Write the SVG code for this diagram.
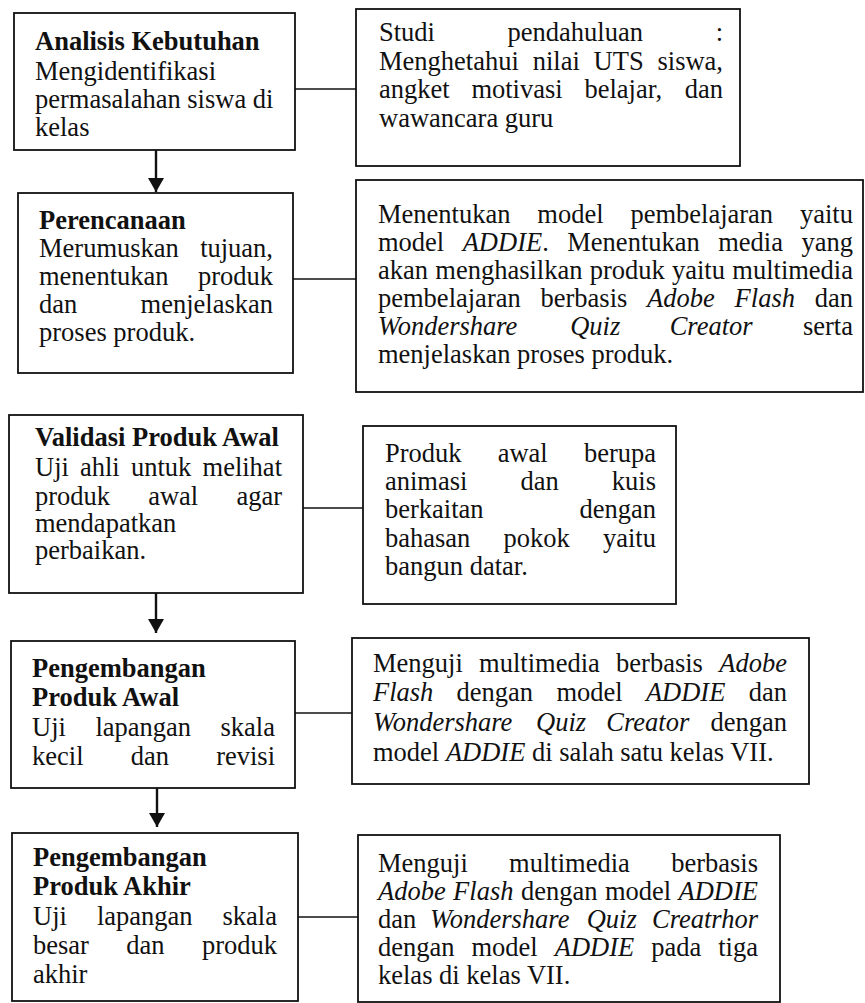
<svg xmlns="http://www.w3.org/2000/svg" width="865" height="1003" viewBox="0 0 865 1003">
<defs>
<style>
.box{fill:#fff;stroke:#111;stroke-width:1.8}
.ln{stroke:#111;stroke-width:1.6;fill:none}
.ar{stroke:#111;stroke-width:2.4;fill:none}
text{font-family:"Liberation Serif","Times New Roman",serif;font-size:26.5px;fill:#111}
.b{font-weight:bold}
.i{font-style:italic}
.e{text-anchor:end}
</style>
<marker id="ah" viewBox="0 0 14 16" refX="14" refY="8" markerWidth="14" markerHeight="16" markerUnits="userSpaceOnUse" orient="auto">
<path d="M0,0 L14,8 L0,16 z" fill="#111"/>
</marker>
</defs>
<rect width="865" height="1003" fill="#fff"/>

<g id="connectors">
<line class="ln" x1="295" y1="89" x2="356" y2="89"/>
<line class="ln" x1="293" y1="279" x2="356" y2="279"/>
<line class="ln" x1="303" y1="508" x2="363" y2="508"/>
<line class="ln" x1="295" y1="713" x2="352" y2="713"/>
<line class="ln" x1="295" y1="917" x2="358" y2="917"/>
<line class="ar" x1="156" y1="150" x2="156" y2="192" marker-end="url(#ah)"/>
<line class="ar" x1="156" y1="593" x2="156" y2="633" marker-end="url(#ah)"/>
<line class="ar" x1="157" y1="788" x2="157" y2="827" marker-end="url(#ah)"/>
</g>

<g id="analisis">
<rect class="box" x="14" y="13" width="281" height="137"/>
<text class="b" x="35" y="50">Analisis Kebutuhan</text>
<text x="35" y="80">Mengidentifikasi</text>
<text x="35" y="108">permasalahan siswa di</text>
<text x="35" y="136">kelas</text>
</g>

<g id="studi">
<rect class="box" x="356" y="9" width="384" height="157"/>
<text x="379" y="41">Studi</text><text x="507.6" y="41">pendahuluan</text><text class="e" x="723" y="41">:</text>
<text x="379" y="70">Menghetahui</text><text x="532.7" y="70">nilai</text><text x="593.6" y="70">UTS</text><text class="e" x="723" y="70">siswa,</text>
<text x="379" y="98">angket</text><text x="471.4" y="98">motivasi</text><text x="584.4" y="98">belajar,</text><text class="e" x="723" y="98">dan</text>
<text x="379" y="127">wawancara guru</text>
</g>

<g id="perencanaan">
<rect class="box" x="18" y="193" width="275" height="180"/>
<text class="b" x="39" y="229">Perencanaan</text>
<text x="39" y="257">Merumuskan</text><text class="e" x="273" y="257">tujuan,</text>
<text x="39" y="285">menentukan</text><text class="e" x="273" y="285">produk</text>
<text x="39" y="313">dan</text><text class="e" x="273" y="313">menjelaskan</text>
<text x="39" y="341">proses produk.</text>
</g>

<g id="menentukan">
<rect class="box" x="356" y="180" width="507" height="212"/>
<text x="378" y="223">Menentukan</text><text x="537.3" y="223">model</text><text x="630.4" y="223">pembelajaran</text><text class="e" x="853" y="223">yaitu</text>
<text x="378" y="251">model</text><text x="462.7" y="251"><tspan class="i">ADDIE</tspan>.</text><text x="567.3" y="251">Menentukan</text><text x="718.2" y="251">media</text><text class="e" x="853" y="251">yang</text>
<text x="378" y="279">akan</text><text x="435.3" y="279">menghasilkan</text><text x="589.7" y="279">produk</text><text x="672" y="279">yaitu</text><text class="e" x="853" y="279">multimedia</text>
<text x="378" y="307">pembelajaran</text><text x="540.5" y="307">berbasis</text><text class="i" x="647.1" y="307">Adobe</text><text class="i" x="734.6" y="307">Flash</text><text class="e" x="853" y="307">dan</text>
<text class="i" x="378" y="335">Wondershare</text><text class="i" x="570.2" y="335">Quiz</text><text class="i" x="669.7" y="335">Creator</text><text class="e" x="853" y="335">serta</text>
<text x="378" y="363">menjelaskan proses produk.</text>
</g>

<g id="validasi">
<rect class="box" x="9" y="415" width="294" height="178"/>
<text class="b" x="35" y="446">Validasi Produk Awal</text>
<text x="35" y="476">Uji</text><text x="80" y="476">ahli</text><text x="130.9" y="476">untuk</text><text class="e" x="282" y="476">melihat</text>
<text x="35" y="505">produk</text><text x="148.2" y="505">awal</text><text class="e" x="282" y="505">agar</text>
<text x="35" y="532">mendapatkan</text>
<text x="35" y="559">perbaikan.</text>
</g>

<g id="produk-awal">
<rect class="box" x="363" y="426" width="313" height="178"/>
<text x="385" y="462">Produk</text><text x="497.7" y="462">awal</text><text class="e" x="656" y="462">berupa</text>
<text x="385" y="490">animasi</text><text x="520.5" y="490">dan</text><text class="e" x="656" y="490">kuis</text>
<text x="385" y="518">berkaitan</text><text class="e" x="656" y="518">dengan</text>
<text x="385" y="547">bahasan</text><text x="503.6" y="547">pokok</text><text class="e" x="656" y="547">yaitu</text>
<text x="385" y="575">bangun datar.</text>
</g>

<g id="pengembangan-awal">
<rect class="box" x="11" y="641" width="284" height="147"/>
<text class="b" x="32" y="677">Pengembangan</text>
<text class="b" x="32" y="706">Produk Awal</text>
<text x="32" y="736">Uji</text><text x="95.4" y="736">lapangan</text><text class="e" x="275" y="736">skala</text>
<text x="32" y="765">kecil</text><text x="130.7" y="765">dan</text><text class="e" x="275" y="765">revisi</text>
</g>

<g id="menguji-kecil">
<rect class="box" x="352" y="638" width="457" height="146"/>
<text x="373" y="672">Menguji</text><text x="479.1" y="672">multimedia</text><text x="616.1" y="672">berbasis</text><text class="i e" x="787" y="672">Adobe</text>
<text class="i" x="373" y="701">Flash</text><text x="456.6" y="701">dengan</text><text x="556.4" y="701">model</text><text class="i" x="645.9" y="701">ADDIE</text><text class="e" x="787" y="701">dan</text>
<text class="i" x="373" y="731">Wondershare</text><text class="i" x="536" y="731">Quiz</text><text class="i" x="606.3" y="731">Creator</text><text class="e" x="787" y="731">dengan</text>
<text x="373" y="761">model <tspan class="i">ADDIE</tspan> di salah satu kelas VII.</text>
</g>

<g id="pengembangan-akhir">
<rect class="box" x="12" y="833" width="286" height="168"/>
<text class="b" x="33" y="866">Pengembangan</text>
<text class="b" x="33" y="895">Produk Akhir</text>
<text x="33" y="925">Uji</text><text x="96.9" y="925">lapangan</text><text class="e" x="277" y="925">skala</text>
<text x="33" y="954">besar</text><text x="126.3" y="954">dan</text><text class="e" x="277" y="954">produk</text>
<text x="33" y="983">akhir</text>
</g>

<g id="menguji-besar">
<rect class="box" x="358" y="835" width="422" height="167"/>
<text x="378" y="872">Menguji</text><text x="509.1" y="872">multimedia</text><text class="e" x="758" y="872">berbasis</text>
<text class="i" x="378" y="900">Adobe</text><text class="i" x="453.1" y="900">Flash</text><text x="520.9" y="900">dengan</text><text x="604.9" y="900">model</text><text class="i e" x="758" y="900">ADDIE</text>
<text x="378" y="928">dan</text><text class="i" x="430.1" y="928">Wondershare</text><text class="i" x="586.7" y="928">Quiz</text><text class="i e" x="758" y="928">Creatrhor</text>
<text x="378" y="956">dengan</text><text x="471.5" y="956">model</text><text class="i" x="554.8" y="956">ADDIE</text><text x="651.3" y="956">pada</text><text class="e" x="758" y="956">tiga</text>
<text x="378" y="984">kelas di kelas VII.</text>
</g>
</svg>
